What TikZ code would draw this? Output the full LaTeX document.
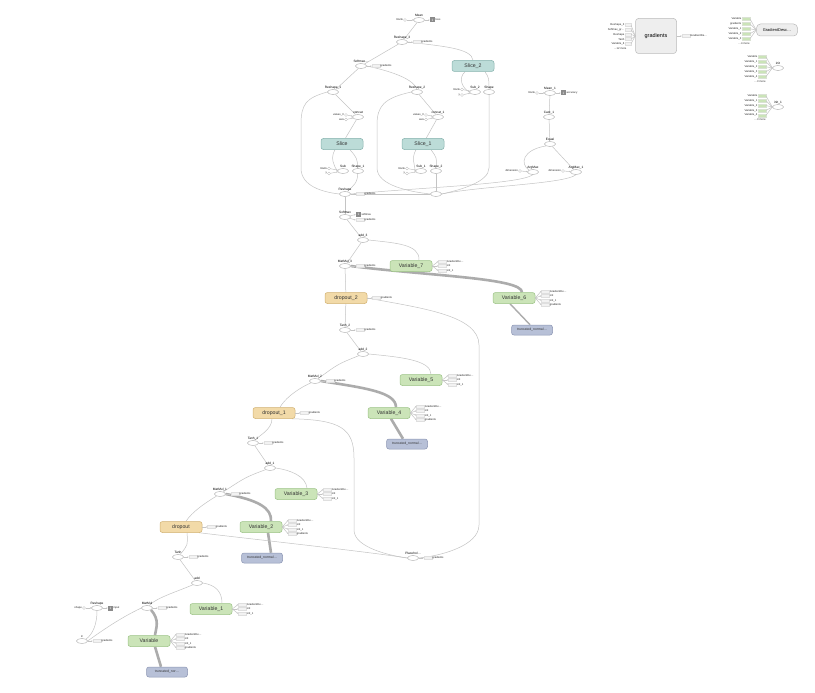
\documentclass[tikz,border=0pt]{standalone}
\usepackage{fontspec}
\setmainfont{Liberation Sans}
\usetikzlibrary{shapes.geometric,arrows.meta,positioning,backgrounds}
\definecolor{vfill}{HTML}{CBE4B8}\definecolor{vdraw}{HTML}{9CC386}
\definecolor{sfill}{HTML}{BCDCD8}\definecolor{sdraw}{HTML}{86B2AD}
\definecolor{dfill}{HTML}{F2DAA8}\definecolor{ddraw}{HTML}{D2B272}
\definecolor{tfill}{HTML}{B7C0D7}\definecolor{tdraw}{HTML}{8C96B4}
\definecolor{gfill}{HTML}{EEEEEE}\definecolor{gdraw}{HTML}{BBBBBB}
\definecolor{edgec}{HTML}{C4C4C4}
\definecolor{sqfill}{HTML}{8A8A8A}
\newcommand\OpNode[3]{\node[opn] (#1) at (#2) {};\node[oplab,anchor=south] (#1l) at ([yshift=0.2pt]#1.north) {#3};}
\newcommand\AuxG[2]{\node[auxb,anchor=west] (#1g) at ([xshift=5pt]#1.east) {};\node[small,anchor=west] (#1gt) at (#1g.east) {#2};\draw[ea] (#1) -- (#1g);}
\newcommand\CinN[4]{\node[cst] (#1) at (#2) {};\node[small,anchor=east] (#1t) at (#1.west) {#3};\draw[ea] (#1) -- (#4);}
\newcommand\SqOut[2]{\node[sq,anchor=west] (#1q) at ([xshift=5pt]#1.east) {1};\node[small,anchor=west] (#1qt) at (#1q.east) {#2};\draw[ea] (#1) -- (#1q);}
\newcommand\VOuts[3]{\foreach \t [count=\i] in {#3} {%
  \node[auxb,anchor=west] (#1o\i) at ([xshift=6pt,yshift={(#2-(\i-1)*4.6)*1pt}]#1.east) {};
  \node[small,anchor=west] (#1t\i) at (#1o\i.east) {\t};
  \draw[ea] (#1.east) -- (#1o\i.west);}}
\newcommand\InStubs[5]{\foreach \t [count=\i] in {#5} {%
  \node[#4,anchor=east] (#1s\i) at ([yshift={-(\i-1)*#3*1pt}]#2) {};
  \node[small,anchor=east] (#1st\i) at (#1s\i.west) {\t};
  \draw[e] (#1s\i.east) -- (#1.west);}}
\begin{document}
\begin{tikzpicture}[x=1pt,y=-1pt,
  opn/.style={ellipse,draw=gray!70,fill=white,minimum width=11pt,minimum height=5pt,inner sep=0pt,line width=0.4pt},
  oplab/.style={font=\fontsize{3.2}{3.6}\selectfont,inner sep=0.2pt},
  small/.style={font=\fontsize{2.7}{3}\selectfont,inner sep=0.3pt,text=black!85},
  grp/.style={rounded corners=2.5pt,minimum width=42pt,minimum height=11pt,inner sep=0pt,line width=0.5pt,font=\fontsize{5.2}{6}\selectfont,text=black!80},
  varn/.style={grp,fill=vfill,draw=vdraw},
  slc/.style={grp,fill=sfill,draw=sdraw},
  drp/.style={grp,fill=dfill,draw=ddraw},
  trn/.style={grp,fill=tfill,draw=tdraw,minimum width=41pt,minimum height=10pt,font=\fontsize{3.4}{4}\selectfont},
  auxb/.style={rectangle,fill=gray!10,draw=gray!25,line width=0.2pt,minimum width=8pt,minimum height=3pt,inner sep=0pt},
  grb/.style={auxb,fill=vfill,draw=vfill!80!black!40},
  cst/.style={circle,draw=gray!70,fill=white,minimum size=3pt,inner sep=0pt,line width=0.3pt},
  sq/.style={rectangle,fill=sqfill,minimum size=5pt,inner sep=0pt,text=white,font=\fontsize{3.2}{3.5}\selectfont},
  e/.style={draw=edgec,line width=0.5pt},
  ea/.style={e,-{Stealth[length=1.4pt,width=1.4pt]}},
  thk/.style={draw=gray!65,line width=2.6pt},
  gbox/.style={rounded corners=3pt,fill=gfill,draw=gdraw,line width=0.5pt,inner sep=0pt}]
\useasboundingbox (0,0) rectangle (815,693);

% ---------- top cluster ----------
\OpNode{mean}{419,20}{Mean}
\CinN{rank0}{405,20}{Rank}{mean}
\SqOut{mean}{loss}
\OpNode{rs3}{402,42}{Reshape\_3}\AuxG{rs3}{gradients}
\OpNode{smx}{361,66}{Softmax\dots}\AuxG{smx}{gradients}
\node[slc] (slice2) at (473,66) {Slice\_2};
\OpNode{rs1}{333,92}{Reshape\_1}
\OpNode{rs2}{417,92}{Reshape\_2}
\OpNode{sub2}{475,92}{Sub\_2}
\OpNode{shape}{489,92}{Shape}
\CinN{subtwor}{462,89.5}{Rank}{sub2}
\CinN{subtwoy}{462,95}{y}{sub2}
\OpNode{concat}{358,117}{concat}
\CinN{cva}{346,115}{values\_0}{concat}
\CinN{cax}{346,119.5}{axis}{concat}
\OpNode{concat1}{438,117}{concat\_1}
\CinN{cvb}{426,115}{values\_0}{concat1}
\CinN{cbx}{426,119.5}{axis}{concat1}
\node[slc] (slice) at (342,144) {Slice};
\node[slc] (slice1) at (423,144) {Slice\_1};
\OpNode{sub}{343,171}{Sub}
\OpNode{shape1}{358,171}{Shape\_1}
\CinN{subr}{329,168.5}{Rank}{sub}
\CinN{suby}{329,173.5}{y}{sub}
\OpNode{sub1}{421,171}{Sub\_1}
\OpNode{shape2}{436,171}{Shape\_2}
\CinN{suboner}{407,168.5}{Rank}{sub1}
\CinN{suboney}{407,173.5}{y}{sub1}
\OpNode{rsh}{345,194}{Reshape}\AuxG{rsh}{gradients}
\OpNode{xn}{436,194}{}

% right column
\OpNode{mean1}{550,93}{Mean\_1}
\CinN{rank1}{537,93}{Rank}{mean1}
\SqOut{mean1}{accuracy}
\OpNode{cast1}{549,117}{Cast\_1}
\OpNode{equal}{550,144}{Equal}
\OpNode{argmax}{533,172}{ArgMax}
\CinN{dima}{520,171}{dimension}{argmax}
\OpNode{argmax1}{576,172}{ArgMax\_1}
\CinN{dimb}{563,171}{dimension}{argmax1}

% ---------- main chain ----------
\OpNode{smx2}{345,217}{Softmax}
\node[sq,anchor=west] (smx2q) at ([xshift=5pt,yshift=2.5pt]smx2.east) {1};
\node[small,anchor=west] (smx2qt) at (smx2q.east) {softmax};
\node[auxb,anchor=west] (smx2g) at ([xshift=5pt,yshift=-3pt]smx2.east) {};
\node[small,anchor=west] (smx2gt) at (smx2g.east) {gradients};
\draw[ea] (smx2) -- (smx2q.west);
\draw[ea] (smx2) -- (smx2g.west);
\OpNode{add3}{363,240}{add\_3}
\OpNode{mm3}{345,266}{MatMul\_3}\AuxG{mm3}{gradients}
\node[varn] (v7) at (411,266) {Variable\_7};
\VOuts{v7}{4.6}{GradientDe\dots,init,init\_1}
\node[varn] (v6) at (514,298) {Variable\_6};
\VOuts{v6}{6.9}{GradientDe\dots,init,init\_1,gradients}
\node[trn] (tn6) at (532,330) {truncated\_normal\dots};
\node[drp] (d2) at (346,298) {dropout\_2};\AuxG{d2}{gradients}
\OpNode{tanh2}{345,330}{Tanh\_2}\AuxG{tanh2}{gradients}
\OpNode{add2}{363,354}{add\_2}
\OpNode{mm2}{315,381}{MatMul\_2}\AuxG{mm2}{gradients}
\node[varn] (v5) at (421,380) {Variable\_5};
\VOuts{v5}{4.6}{GradientDe\dots,init,init\_1}
\node[varn] (v4) at (389,413) {Variable\_4};
\VOuts{v4}{6.9}{GradientDe\dots,init,init\_1,gradients}
\node[trn] (tn4) at (407,444) {truncated\_normal\dots};
\node[drp] (d1) at (274,413) {dropout\_1};\AuxG{d1}{gradients}
\OpNode{tanh1}{253,443}{Tanh\_1}\AuxG{tanh1}{gradients}
\OpNode{add1}{270,468}{add\_1}
\OpNode{mm1}{220,494}{MatMul\_1}\AuxG{mm1}{gradients}
\node[varn] (v3) at (296,494) {Variable\_3};
\VOuts{v3}{4.6}{GradientDe\dots,init,init\_1}
\node[varn] (v2) at (261,527) {Variable\_2};
\VOuts{v2}{6.9}{GradientDe\dots,init,init\_1,gradients}
\node[trn] (tn2) at (262,558) {truncated\_normal\dots};
\node[drp] (d0) at (181,527) {dropout};\AuxG{d0}{gradients}
\OpNode{ph}{413,558}{Placehol\dots}\AuxG{ph}{gradients}
\OpNode{tanh}{178,557}{Tanh}\AuxG{tanh}{gradients}
\OpNode{add}{197,583}{add}
\OpNode{mm}{147,608}{MatMul}\AuxG{mm}{gradients}
\node[varn] (v1) at (211,609) {Variable\_1};
\VOuts{v1}{4.6}{GradientDe\dots,init,init\_1}
\node[varn] (v0) at (149,641) {Variable};
\VOuts{v0}{6.9}{GradientDe\dots,init,init\_1,gradients}
\node[trn] (tn0) at (167,672) {truncated\_nor\dots};
\OpNode{rsp}{97,608}{Reshape}
\CinN{rspc}{84,608}{shape}{rsp}
\SqOut{rsp}{input}
\OpNode{xin}{82,641}{x}\AuxG{xin}{gradients}

% ---------- top right ----------
\node[gbox,minimum width=41pt,minimum height=35pt,font=\fontsize{5.5}{6}\selectfont] (grads) at (656,36) {gradients};
\InStubs{grads}{631,25}{4.7}{auxb,minimum width=6pt}{Reshape\_3,Softmax\_gr\dots,Reshape,Tanh,Variable\_6}
\node[small,anchor=east] (gmore) at (627,49) {\dots 12 more};
\node[auxb,anchor=west] (gout) at ([xshift=5pt]grads.east) {};
\node[small,anchor=west] (goutt) at (gout.east) {GradientDe\dots};
\draw[ea] (grads) -- (gout);

\node[gbox,minimum width=41pt,minimum height=12pt,rounded corners=4pt,font=\fontsize{4}{4.5}\selectfont] (gd) at (777,30) {GradientDesc\dots};
\InStubs{gd}{750,19}{4.9}{grb}{Variable,gradients,Variable\_1,Variable\_2,Variable\_3}
\node[small,anchor=east] (gdmore) at (750,43.5) {\dots 4 more};

\OpNode{init}{778,68}{init}
\InStubs{init}{766,57}{4.9}{grb}{Variable,Variable\_1,Variable\_2,Variable\_3,Variable\_4}
\node[small,anchor=east] (initmore) at (766,81.5) {\dots 3 more};
\OpNode{initone}{778,107}{init\_1}
\InStubs{initone}{766,96}{4.8}{grb}{Variable,Variable\_1,Variable\_2,Variable\_3,Variable\_4}
\node[small,anchor=east] (initonemore) at (766,120) {\dots 3 more};

% ---------- edges ----------
\begin{scope}[on background layer]
\fill[white] (0,0) rectangle (815,693);
\draw[e] (rs3) -- (mean);
\draw[e] (smx) -- (rs3);
\draw[e] (rs3.east) .. controls (440,46) and (472,48) .. (slice2.north);
\draw[e] (smx) -- (rs1);
\draw[e] (smx.east) .. controls (395,72) and (414,80) .. (rs2.north);
\draw[e] ([xshift=-8pt]slice2.south) .. controls (458,78) and (462,88) .. (sub2.west);
\draw[e] ([xshift=12pt]slice2.south) .. controls (489,78) .. (shape.north);
\draw[e] (rs1) -- (concat);
\draw[e] (rs2) -- (concat1);
\draw[e] (concat) -- (slice);
\draw[e] (concat1) -- (slice1);
\draw[e] ([xshift=-7pt]slice.south) .. controls (330,158) and (334,166) .. (sub.west);
\draw[e] ([xshift=8pt]slice.south) .. controls (357,158) .. (shape1.north);
\draw[e] ([xshift=-7pt]slice1.south) .. controls (411,158) and (415,166) .. (sub1.west);
\draw[e] ([xshift=8pt]slice1.south) .. controls (437,158) .. (shape2.north);
\draw[e] (rs1.west) .. controls (306,98) and (301,104) .. (301,125) -- (301,168) .. controls (301,186) and (322,192) .. (rsh.west);
\draw[e] (rs2.west) .. controls (384,98) and (377,106) .. (377,125) -- (377,168) .. controls (377,186) and (412,192) .. (xn.west);
\draw[e] (shape.south) -- (489,168) .. controls (489,182) and (460,190) .. (xn.east);
\draw[e] (shape2) -- (xn);
\draw[e] (shape1) .. controls (357,182) .. (rsh);
\draw[e] (xn) -- (rsh);
\draw[e] (argmax.south) .. controls (520,184) and (430,187) .. (rsh.east);
\draw[e] (argmax1.south) .. controls (565,184) and (480,186) .. (xn.east);
\draw[e] (mean1) -- (cast1);
\draw[e] (cast1) -- (equal);
\draw[e] (equal.south west) .. controls (522,150) and (520,164) .. (argmax.north west);
\draw[e] (equal) -- (argmax1);
% main chain
\draw[e] (rsh) -- (smx2);
\draw[e] (smx2) -- (add3);
\draw[e] (add3) -- (mm3);
\draw[e] (add3.east) .. controls (395,243) and (420,244) .. ([xshift=8pt]v7.north);
\draw[thk] (mm3.east) .. controls (430,276) and (522,278) .. ([xshift=8pt]v6.north);
\draw[draw=gray!65,line width=1.4pt] ([xshift=-4pt]v6.south) -- ([xshift=-2pt]tn6.north);
\draw[e] (mm3) -- (d2);
\draw[e] (d2) -- (tanh2);
\draw[e] (d2.east) .. controls (420,308) and (479,315) .. (479,345) -- (479,525) .. controls (479,546) and (440,556) .. (ph.east);
\draw[e] (tanh2) -- (add2);
\draw[e] (add2.east) .. controls (400,357) and (431,360) .. ([xshift=10pt]v5.north);
\draw[e] (add2) .. controls (338,364) .. (mm2);
\draw[thk] (mm2.east) .. controls (365,388) and (396,392) .. ([xshift=7pt]v4.north);
\draw[thk] ([xshift=2pt]v4.south) -- ([xshift=-4pt]tn4.north);
\draw[e] (mm2) .. controls (295,390) and (284,400) .. ([xshift=6pt]d1.north);
\draw[e] ([xshift=-2pt]d1.south) .. controls (272,430) and (258,436) .. (tanh1);
\draw[e] ([xshift=-3pt]d1.south east) .. controls (340,420) and (354,428) .. (354,458) -- (354,530) .. controls (354,548) and (392,556) .. (ph.west);
\draw[e] (tanh1) -- (add1);
\draw[e] (add1.east) .. controls (290,470) and (306,476) .. ([xshift=11pt]v3.north);
\draw[e] (add1) .. controls (246,477) .. (mm1);
\draw[thk] (mm1.east) .. controls (258,500) and (272,508) .. ([xshift=10pt]v2.north);
\draw[thk] ([xshift=7pt]v2.south) .. controls (270,542) .. ([xshift=9pt]tn2.north);
\draw[e] (mm1) .. controls (205,503) and (192,512) .. ([xshift=5pt]d0.north);
\draw[e] ([xshift=-3pt]d0.south east) .. controls (260,540) and (370,552) .. (ph.west);
\draw[e] ([xshift=6pt]d0.south) .. controls (188,545) .. (tanh);
\draw[e] (tanh) -- (add);
\draw[e] (add.east) .. controls (216,585) and (222,592) .. ([xshift=11pt]v1.north);
\draw[e] (add) .. controls (176,592) and (156,598) .. (mm);
\draw[thk] (mm.south east) .. controls (160,620) and (156,628) .. ([xshift=6pt]v0.north);
\draw[thk] ([xshift=6pt]v0.south) .. controls (158,656) .. ([xshift=-6pt]tn0.north);
\draw[e] (mm.west) .. controls (120,618) and (100,632) .. (xin.east);
\draw[e] (rsp.south) .. controls (97,624) and (93,634) .. (xin.north east);
\end{scope}
\end{tikzpicture}
\end{document}
